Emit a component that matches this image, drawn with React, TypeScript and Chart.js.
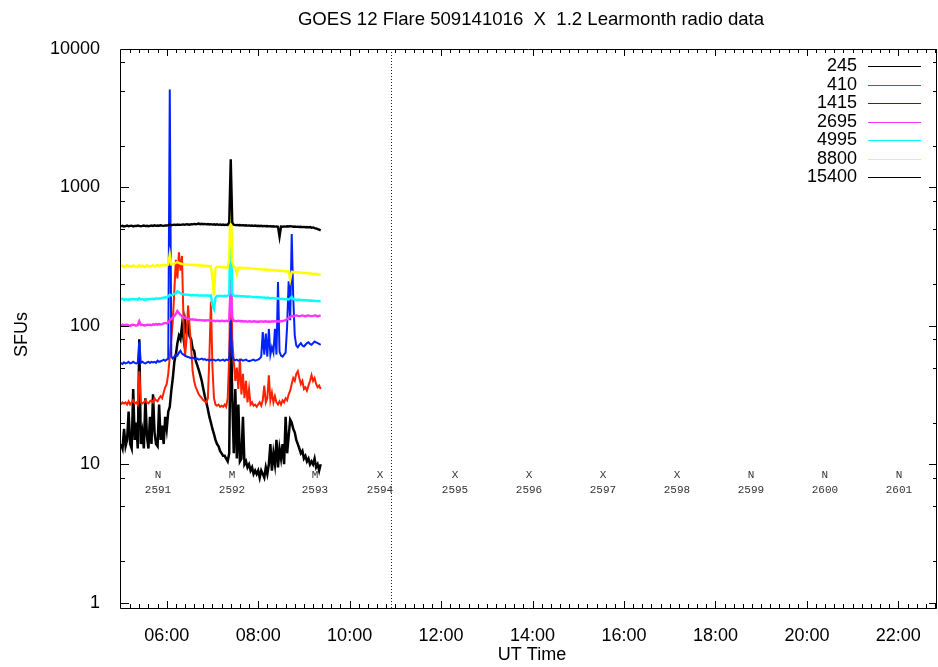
import React, { useEffect, useRef } from "react";
import { Chart, registerables } from "chart.js";

Chart.register(...registerables);

const TITLE = "GOES 12 Flare 509141016  X  1.2 Learmonth radio data";
const X_TITLE = "UT Time";
const Y_TITLE = "SFUs";

// sampling grid of the radio data (hours UT)
const START_HOUR = 5;
const STEP_MINUTES = 2;

const seriesNames = ["245", "410", "1415", "2695", "4995", "8800", "15400"];
const seriesColors = ["#000000", "#ff2200", "#0022ff", "#ff33ff", "#00ffff", "#ffff00", "#000000"];
const seriesWidths = [2.5, 2, 2, 2.4, 2.4, 2.4, 2.4];

const s245 = [
  14, 13, 18, 13.5, 15, 24, 14, 13, 35, 15,
  20, 13, 80, 14, 17, 13, 30, 16, 13, 22,
  14, 32, 17, 14, 13.5, 27, 15, 19, 14, 22,
  18, 24, 26, 34, 42, 55, 62, 75, 85, 80,
  100, 82, 108, 90, 102, 84, 80, 68, 66, 56,
  52, 48, 44, 40, 35, 31, 28, 25, 22, 20,
  18, 16.5, 15, 14, 13.5, 12.5, 12, 11.5, 11.5, 11,
  10.5, 12, 118, 30, 12, 35, 11, 27, 10.5, 11,
  22, 10, 10.5, 9.5, 10, 9, 9.5, 8.5, 9, 8.5,
  9, 8, 9, 8.5, 8, 9.5, 8.5, 10, 14, 9,
  12, 10, 15, 9.5, 13, 11, 14, 10, 22, 12,
  16, 21, 20, 18, 17, 15, 14, 13, 12, 12.5,
  11, 11.5, 10.5, 11, 10, 10.5, 10, 11, 9.5, 10, 9, 10,
];

const s410 = [
  27, 28, 27.5, 28, 27, 28.5, 27, 28, 29, 27.5,
  28, 27, 47, 28, 27.5, 28, 29, 28, 27.5, 28.5,
  29, 28, 30, 29, 28.5, 30, 31, 30, 33, 36,
  38, 45, 60, 80, 110, 180, 300, 220, 340, 250,
  320, 110, 60, 80, 140, 100, 70, 47, 40, 36,
  34, 32, 31, 30, 29, 28.5, 28, 30, 60, 150,
  50, 30, 27, 26.5, 27, 26, 26.5, 26, 27, 26,
  30, 60, 330, 80, 55, 40, 50, 35, 58, 32,
  45, 30, 40, 28, 35, 27, 28, 26.5, 27, 26,
  27, 28, 26.5, 29, 37, 28, 30, 44, 29, 33,
  28, 31, 28, 27, 28.5, 27, 29, 28, 30, 29,
  32, 34, 38, 42, 40, 45, 47, 42, 38, 40,
  35, 36, 34, 37, 40, 44, 40, 42, 38, 36, 37, 35,
];

const s1415 = [
  54, 53, 54.5, 53.5, 54, 55, 53.5, 54, 55, 54,
  53.5, 54, 77, 54, 55, 54, 53.5, 54.5, 55, 54,
  55, 54.5, 55, 54, 56, 55, 55.5, 56, 57, 56,
  57, 58, 5100, 60, 58, 60, 62, 61, 64, 66,
  63, 62, 61, 60, 59.5, 59, 58.5, 59, 58, 57.5,
  58, 57, 57.5, 58, 57, 57.5, 56.5, 57, 56, 57,
  56.5, 57, 56, 56.5, 57, 56, 56.5, 57, 56, 57,
  56.5, 58, 110, 60, 57, 56.5, 57, 56, 56.5, 57,
  56, 56.5, 57, 56, 55.5, 56, 56.5, 57, 56, 56.5,
  57, 58, 60, 90, 62, 88, 60, 95, 62, 70,
  64, 95, 62, 207, 65, 61, 60, 62, 64, 100,
  210, 110, 460, 160, 85, 72, 70, 73, 75, 72,
  71, 73, 75, 76, 74, 73, 75, 77, 76, 75, 74, 73,
];

const s2695 = [
  101, 102, 100.5, 101.5, 102, 101, 100, 101.5, 102, 101,
  100.5, 101, 108, 101.5, 102, 101, 100.5, 102, 101.5, 102,
  101, 102.5, 102, 103, 102, 103, 102.5, 103, 104, 105,
  104, 106, 110, 112, 115, 118, 122, 128, 124, 120,
  118, 116, 114, 113, 112.5, 112, 111, 111.5, 110.5, 111,
  110, 110.5, 110, 109.5, 110, 109, 110, 109.5, 110, 109,
  108.5, 109, 108, 109, 108.5, 108, 109, 108.5, 108, 109,
  108, 110, 200, 115, 109, 108.5, 108, 109, 108, 108.5,
  108, 107.5, 108, 107, 108, 107.5, 107, 108, 107.5, 107,
  107.5, 107, 108, 107, 107.5, 108, 107, 107.5, 107, 108,
  107.5, 108, 107, 108, 107.5, 108, 108.5, 109, 110, 112,
  114, 116, 118, 117, 118, 119, 118, 117.5, 118, 119,
  118, 117, 118.5, 119, 118, 117.5, 118, 119, 118.5, 117, 118, 119,
];

const s4995 = [
  155, 157, 154, 156, 155.5, 154, 156, 155, 157, 155,
  156, 154.5, 158, 155, 156, 155, 154, 156, 155.5, 157,
  156, 157, 156, 158, 157, 158, 157.5, 159, 160, 161,
  160, 163, 168, 166, 168, 170, 172, 178, 175, 172,
  170, 169, 168, 168.5, 167, 168, 166, 167, 166.5, 166,
  167, 165, 166, 165.5, 166, 165, 166, 165.5, 165, 166,
  140, 132, 160, 165, 164, 165, 164.5, 164, 165, 164,
  165, 170, 650, 172, 165, 164, 165, 164.5, 164, 163.5,
  164, 163, 163.5, 162, 163, 162.5, 162, 161, 162, 161.5,
  161, 160.5, 161, 160, 160.5, 159, 160, 159.5, 158, 159,
  158.5, 158, 157, 158, 157, 156.5, 157, 156, 155.5, 156,
  155, 158, 162, 156, 155, 154.5, 154, 155, 153.5, 154,
  153, 153.5, 152.5, 153, 152, 152.5, 151.5, 152, 151, 151.5, 150.5, 151,
];

const s8800 = [
  268, 272, 266, 270, 274, 268, 271, 267, 273, 269,
  270, 266, 274, 268, 272, 269, 267, 273, 270, 268,
  271, 274, 269, 272, 275, 270, 273, 276, 272, 275,
  274, 277, 330, 278, 280, 282, 286, 290, 285, 282,
  280, 279, 278, 277, 278, 276, 277, 275, 276, 274,
  275, 273, 274, 272, 273, 271, 272, 270, 271, 269,
  220, 165, 262, 268, 266, 267, 265, 266, 264, 265,
  264, 300, 1050, 290, 266, 264, 236, 263, 264, 262,
  263, 261, 262, 260, 261, 259, 260, 258, 259, 257,
  258, 256, 257, 255, 256, 254, 255, 253, 254, 252,
  253, 251, 252, 250, 251, 249, 250, 248, 249, 247,
  248, 215, 246, 244, 245, 243, 244, 242, 243, 241,
  242, 240, 241, 239, 240, 238, 237, 238, 236, 237, 235, 234,
];

const s15400 = [
  525, 528, 522, 526, 530, 524, 527, 529, 523, 527,
  526, 530, 528, 524, 527, 531, 526, 529, 525, 528,
  530, 527, 532, 528, 531, 529, 533, 530, 528, 532,
  531, 534, 540, 533, 536, 538, 535, 540, 537, 536,
  539, 541, 537, 542, 540, 538, 543, 541, 545, 542,
  544, 548, 543, 546, 542, 545, 541, 544, 540, 543,
  539, 542, 538, 541, 537, 540, 536, 539, 535, 538,
  536, 560, 1600, 560, 537, 534, 536, 533, 535, 532,
  534, 531, 533, 530, 532, 529, 531, 528, 530, 527,
  529, 526, 528, 525, 527, 524, 526, 523, 525, 522,
  524, 521, 523, 520, 440, 522, 520, 523, 521, 524,
  522, 525, 523, 520, 522, 519, 521, 518, 520, 517,
  519, 516, 518, 515, 517, 512, 514, 508, 505, 500, 495, 490,
];

const seriesValues = [s245, s410, s1415, s2695, s4995, s8800, s15400];

// axes
const X_MIN = 5;
const X_MAX = 22.845;
const Y_MIN = 0.9156;
const Y_MAX = 10000;
const xTickHours = [6, 8, 10, 12, 14, 16, 18, 20, 22];
const xMinorStepHours = 0.2;
const yTickValues = [1, 10, 100, 1000, 10000];
const yMinorFactors = [2, 5, 8];

// flare marker and region annotations
const flareMarkHour = 10.9;
const regionHours = [5.809, 7.427, 9.242, 10.664, 12.304, 13.922, 15.54, 17.158, 18.776, 20.394, 22.013];
const regionClasses = ["N", "M", "M", "X", "X", "X", "X", "X", "N", "N", "N"];
const regionNumbers = ["2591", "2592", "2593", "2594", "2595", "2596", "2597", "2598", "2599", "2600", "2601"];
const REGION_CLASS_LEVEL = 8.4;
const REGION_NUMBER_LEVEL = 6.5;

const SANS = '"Liberation Sans", Arial, Helvetica, sans-serif';
const MONO = '"Liberation Mono", "DejaVu Sans Mono", monospace';

const fmtHour = (h: number) => `${String(h).padStart(2, "0")}:00`;

const framePlugin = {
  id: "gnuplotFrame",
  afterDatasetsDraw(chart: any) {
    const { ctx, chartArea, scales } = chart;
    const { left, right, top, bottom } = chartArea;
    const x = scales.x;
    const y = scales.y;
    ctx.save();
    ctx.strokeStyle = "#000";
    ctx.lineWidth = 1;

    // dotted flare marker
    ctx.save();
    ctx.setLineDash([1, 2]);
    ctx.strokeStyle = "#222";
    const fx = Math.round(x.getPixelForValue(flareMarkHour)) + 0.5;
    ctx.beginPath();
    ctx.moveTo(fx, top);
    ctx.lineTo(fx, bottom);
    ctx.stroke();
    ctx.restore();

    // border
    ctx.beginPath();
    ctx.rect(left - 0.5, top + 0.5, right - left, bottom - top);
    ctx.stroke();

    // x ticks
    ctx.beginPath();
    const nMinor = Math.round((X_MAX - X_MIN) / xMinorStepHours);
    for (let k = 1; k <= nMinor; k++) {
      const h = X_MIN + k * xMinorStepHours;
      const isMajor = xTickHours.some((t) => Math.abs(t - h) < 1e-6);
      const len = isMajor ? 7 : 4;
      const px = Math.round(x.getPixelForValue(h)) + 0.5;
      if (px > right) continue;
      ctx.moveTo(px, bottom);
      ctx.lineTo(px, bottom - len);
      ctx.moveTo(px, top);
      ctx.lineTo(px, top + len);
    }
    // y ticks
    for (const v of yTickValues) {
      const py = Math.round(y.getPixelForValue(v)) + 0.5;
      ctx.moveTo(left, py);
      ctx.lineTo(left + 8, py);
      ctx.moveTo(right, py);
      ctx.lineTo(right - 8, py);
      if (v < Y_MAX) {
        for (const f of yMinorFactors) {
          const pm = Math.round(y.getPixelForValue(v * f)) + 0.5;
          ctx.moveTo(left, pm);
          ctx.lineTo(left + 4, pm);
          ctx.moveTo(right, pm);
          ctx.lineTo(right - 4, pm);
        }
      }
    }
    ctx.stroke();

    // region annotations
    ctx.fillStyle = "#333";
    ctx.font = `11px ${MONO}`;
    ctx.textAlign = "center";
    ctx.textBaseline = "middle";
    const cy = y.getPixelForValue(REGION_CLASS_LEVEL);
    const ny = y.getPixelForValue(REGION_NUMBER_LEVEL);
    regionHours.forEach((h, i) => {
      const px = x.getPixelForValue(h);
      ctx.fillText(regionClasses[i], px, cy);
      ctx.fillText(regionNumbers[i], px, ny);
    });

    // key
    ctx.font = `18px ${SANS}`;
    ctx.textAlign = "right";
    const keyTextX = right - 80;
    const keyLineX0 = right - 69;
    const keyLineX1 = right - 16;
    chart.data.datasets.forEach((ds: any, i: number) => {
      const ky = top + 17 + i * 18.55;
      ctx.fillStyle = "#000";
      ctx.fillText(ds.label, keyTextX, ky);
      ctx.strokeStyle = ds.borderColor;
      ctx.lineWidth = 1;
      ctx.beginPath();
      ctx.moveTo(keyLineX0, Math.round(ky) + 0.5);
      ctx.lineTo(keyLineX1, Math.round(ky) + 0.5);
      ctx.stroke();
    });

    // titles
    ctx.fillStyle = "#000";
    ctx.textAlign = "center";
    ctx.font = `18.6px ${SANS}`;
    ctx.fillText(TITLE, (left + right) / 2 + 2, top - 29);
    ctx.font = `18px ${SANS}`;
    ctx.fillText(X_TITLE, (left + right) / 2 + 3, bottom + 47);
    ctx.save();
    ctx.translate(22, (top + bottom) / 2 + 6);
    ctx.rotate(-Math.PI / 2);
    ctx.fillText(Y_TITLE, 0, 0);
    ctx.restore();

    ctx.restore();
  },
};

export default function App() {
  const canvasRef = useRef<HTMLCanvasElement | null>(null);

  useEffect(() => {
    document.body.style.overflow = "hidden";
    const canvas = canvasRef.current;
    if (!canvas) return;
    const times = s245.map((_, i) => START_HOUR + (i * STEP_MINUTES) / 60);
    const datasets = seriesNames.map((name, k) => ({
      label: name,
      data: seriesValues[k].map((v, i) => ({ x: times[i], y: v })),
      borderColor: seriesColors[k],
      backgroundColor: seriesColors[k],
      borderWidth: seriesWidths[k],
      pointRadius: 0,
      tension: 0,
      fill: false,
      order: seriesNames.length - 1 - k,
    }));

    const chart = new Chart(canvas, {
      type: "line",
      data: { datasets },
      plugins: [framePlugin],
      options: {
        responsive: false,
        animation: false,
        devicePixelRatio: 1,
        events: [],
        layout: { padding: { top: 49, right: 1, bottom: 0, left: 0 } },
        plugins: {
          legend: { display: false },
          title: { display: false },
          tooltip: { enabled: false },
        },
        scales: {
          x: {
            type: "linear",
            min: X_MIN,
            max: X_MAX,
            grid: { display: false },
            border: { display: false },
            afterBuildTicks: (scale: any) => {
              scale.ticks = xTickHours.map((v) => ({ value: v }));
            },
            afterFit: (scale: any) => {
              scale.height = 59;
            },
            ticks: {
              autoSkip: false,
              maxRotation: 0,
              padding: 9,
              color: "#000",
              font: { family: SANS, size: 18 },
              callback: (v: any) => fmtHour(Number(v)),
            },
          },
          y: {
            type: "logarithmic",
            min: Y_MIN,
            max: Y_MAX,
            grid: { display: false },
            border: { display: false },
            afterBuildTicks: (scale: any) => {
              scale.ticks = yTickValues.map((v) => ({ value: v }));
            },
            afterFit: (scale: any) => {
              scale.width = 121;
            },
            ticks: {
              autoSkip: false,
              padding: 13,
              color: "#000",
              font: { family: SANS, size: 18 },
              callback: (v: any) => String(v),
            },
          },
        },
      },
    } as any);

    return () => chart.destroy();
  }, []);

  return (
    <div style={{ position: "absolute", left: 0, top: 0, width: 938, height: 667, background: "#fff" }}>
      <canvas ref={canvasRef} width={938} height={667} style={{ display: "block", width: 938, height: 667 }} />
    </div>
  );
}
